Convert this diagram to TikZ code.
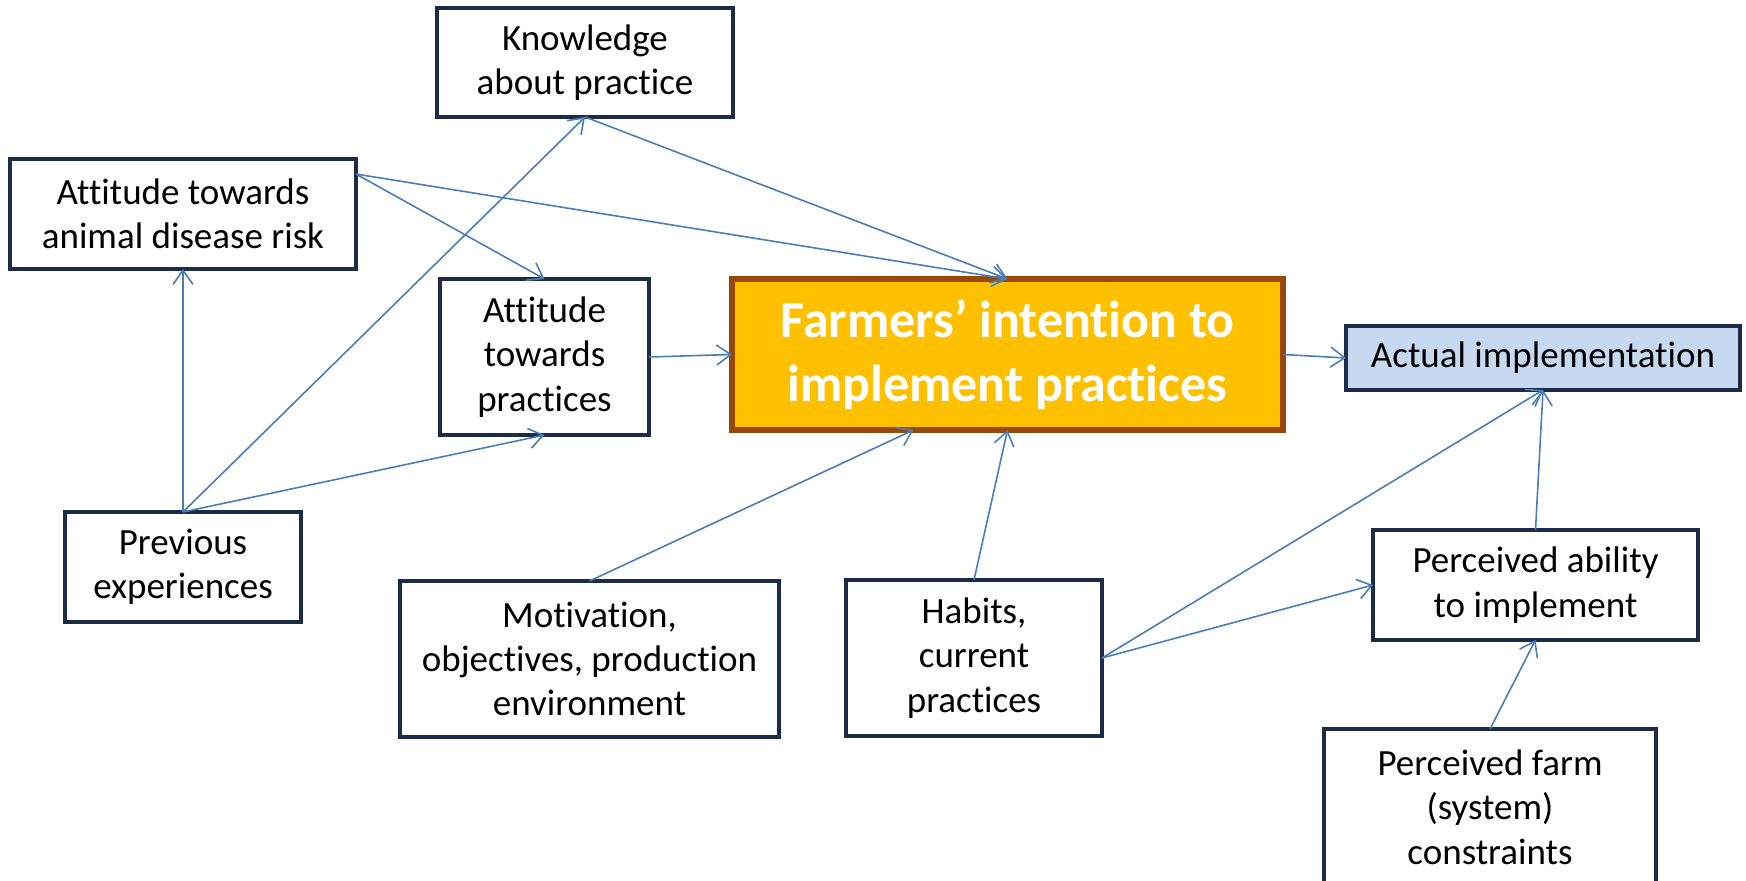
\documentclass[tikz,border=0pt]{standalone}
\usepackage{fontspec}
\setmainfont{Carlito}[RawFeature={-liga,-clig,-calt}]
\usetikzlibrary{calc}
\usetikzlibrary{arrows.meta}
\tikzset{>={Straight Barb[length=7pt,width=10pt]}}
\definecolor{mynavy}{HTML}{1B2B48}
\definecolor{myarrow}{HTML}{4A7EBB}
\definecolor{mygold}{HTML}{FFC000}
\definecolor{mybrown}{HTML}{984807}
\definecolor{mylightblue}{HTML}{C6D9F1}
\tikzstyle{factor}=[draw=mynavy,line width=1.6pt,fill=white,align=center,
  inner sep=0pt,outer sep=0pt,font=\fontsize{18.5}{22.2}\selectfont]
\tikzstyle{link}=[->,myarrow,line width=0.8pt]

\begin{document}
\begin{tikzpicture}[x=0.5pt,y=-0.5pt]
  \clip (0,0) rectangle (1746,881);

  % BOXES
  \node[factor,minimum width=148pt,minimum height=54.5pt] (know) at (585,62.5)
    {Knowledge\\about practice};
  \node[factor,minimum width=173pt,minimum height=55pt] (risk) at (183,214)
    {Attitude towards\\animal disease risk};
  \node[factor,minimum width=104.5pt,minimum height=78pt] (prac) at (544.5,357)
    {Attitude\\towards\\practices};
  \node[factor,draw=mybrown,line width=2.7pt,fill=mygold,text=white,
    font=\fontsize{26}{32}\selectfont\bfseries,
    minimum width=275.5pt,minimum height=75.5pt] (intent) at (1007.5,354.5)
    {Farmers’ intention to\\implement practices};
  \node[factor,fill=mylightblue,minimum width=197pt,minimum height=32pt] (act) at (1543,358)
    {Actual implementation};
  \node[factor,minimum width=118pt,minimum height=55pt] (prev) at (183,567)
    {Previous\\experiences};
  \node[factor,minimum width=189.5pt,minimum height=78pt] (motiv) at (589.5,659)
    {Motivation,\\objectives, production\\environment};
  \node[factor,minimum width=128pt,minimum height=78pt] (habit) at (974,658)
    {Habits,\\current\\practices};
  \node[factor,minimum width=162.5pt,minimum height=55pt] (ability) at (1535.5,585)
    {Perceived ability\\to implement};
  \node[factor,minimum width=166pt,minimum height=78pt] (constr) at (1490,807)
    {Perceived farm\\(system)\\constraints};

  % ARROWS
  \draw[link] (risk.13) -- (intent.north);
  \draw[link] (risk.13) -- (prac.north);
  \draw[link] (know.south) -- (intent.north);
  \draw[link] (prev.north) -- (risk.south);
  \draw[link] (prev.north) -- (know.south);
  \draw[link] (prev.north) -- (prac.south);
  \draw[link] (prac.east) -- (intent.west);
  \draw[link] (motiv.north) -- ($(intent.south)+(-94,0)$);
  \draw[link] (habit.north) -- (intent.south);
  \draw[link] (intent.east) -- (act.west);
  \draw[link] (habit.east) -- (act.south);
  \draw[link] (habit.east) -- (ability.west);
  \draw[link] (ability.north) -- (act.south);
  \draw[link] (constr.north) -- (ability.south);
\end{tikzpicture}
\end{document}
